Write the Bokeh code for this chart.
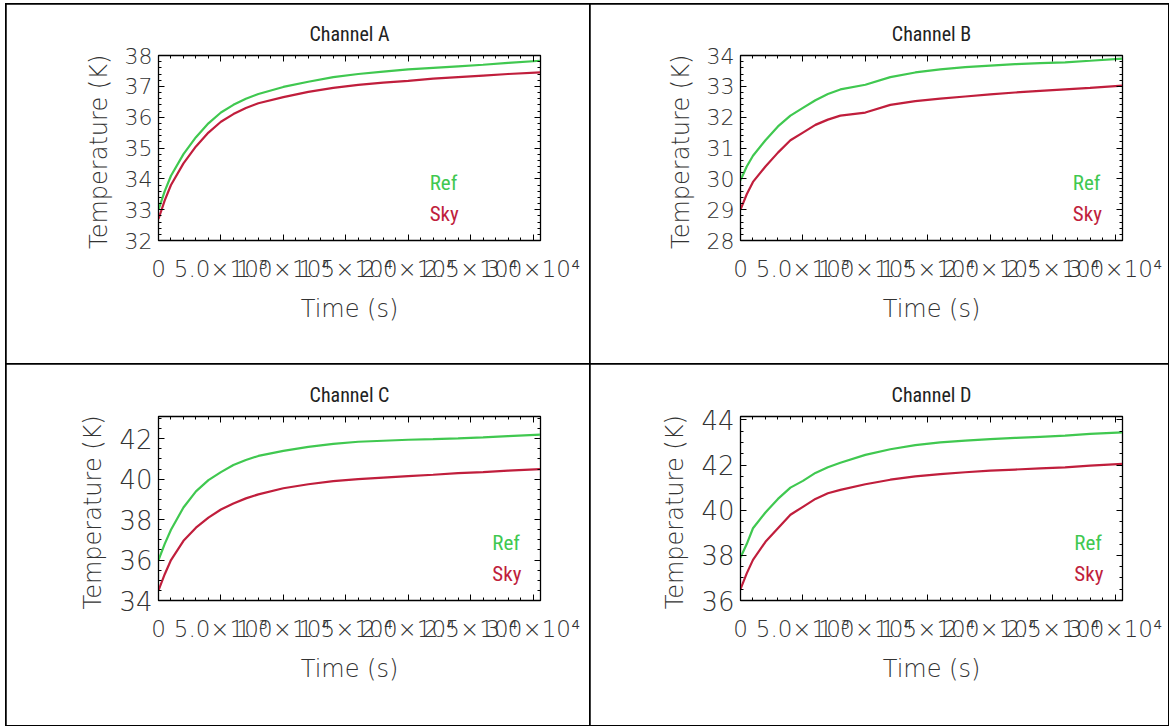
from bokeh.plotting import figure
from bokeh.layouts import row, column
from bokeh.models import LinearAxis, FixedTicker, Label, Range1d
from bokeh.embed import file_html
from bokeh.resources import INLINE

# ---------------- data ----------------
time_s = [0, 500, 1000, 2000, 3000, 4000, 5000, 6000, 7000, 8000, 10000,
          12000, 14000, 16000, 18000, 20000, 22000, 24000, 26000, 28000, 30600]

ref_a = [33.0, 33.6, 34.1, 34.8, 35.35, 35.8, 36.15, 36.4, 36.6, 36.75, 36.98,
         37.15, 37.3, 37.4, 37.48, 37.55, 37.6, 37.65, 37.7, 37.76, 37.83]
sky_a = [32.7, 33.3, 33.8, 34.5, 35.05, 35.5, 35.85, 36.1, 36.3, 36.45, 36.65,
         36.82, 36.95, 37.05, 37.12, 37.18, 37.25, 37.3, 37.35, 37.4, 37.45]

ref_b = [29.95, 30.4, 30.75, 31.25, 31.7, 32.05, 32.3, 32.55, 32.75, 32.9, 33.05,
         33.3, 33.45, 33.55, 33.62, 33.67, 33.72, 33.75, 33.78, 33.83, 33.9]
sky_b = [29.0, 29.5, 29.9, 30.4, 30.85, 31.25, 31.5, 31.75, 31.92, 32.05, 32.15,
         32.4, 32.52, 32.6, 32.67, 32.74, 32.8, 32.85, 32.9, 32.95, 33.02]

ref_c = [36.0, 36.8, 37.5, 38.6, 39.4, 39.95, 40.35, 40.7, 40.95, 41.15, 41.4,
         41.6, 41.75, 41.85, 41.9, 41.95, 41.98, 42.02, 42.07, 42.13, 42.2]
sky_c = [34.5, 35.3, 36.0, 36.95, 37.6, 38.1, 38.5, 38.8, 39.05, 39.25, 39.55,
         39.75, 39.9, 40.0, 40.08, 40.15, 40.22, 40.3, 40.35, 40.42, 40.5]

ref_d = [37.9, 38.5, 39.2, 39.9, 40.5, 41.0, 41.3, 41.65, 41.9, 42.1, 42.45,
         42.7, 42.88, 43.0, 43.08, 43.15, 43.2, 43.25, 43.3, 43.38, 43.45]
sky_d = [36.5, 37.2, 37.8, 38.6, 39.2, 39.8, 40.15, 40.5, 40.75, 40.9, 41.15,
         41.35, 41.5, 41.6, 41.68, 41.75, 41.8, 41.85, 41.9, 41.97, 42.05]

x_ticks = [0, 5000, 10000, 15000, 20000, 25000, 30000]
x_tick_labels = ["0", "5.0\u00d710\u00b3", "1.0\u00d710\u2074", "1.5\u00d710\u2074",
                 "2.0\u00d710\u2074", "2.5\u00d710\u2074", "3.0\u00d710\u2074"]
x_minor = list(range(0, 31000, 1000))

titles = ["Channel A", "Channel B", "Channel C", "Channel D"]
y_ranges = [(32, 38), (28, 34), (34, 43.1), (36, 44.15)]
y_ticks = [[32, 33, 34, 35, 36, 37, 38], [28, 29, 30, 31, 32, 33, 34],
           [34, 36, 38, 40, 42], [36, 38, 40, 42, 44]]
y_minor_step = [0.2, 0.2, 0.5, 0.5]
series_names = ["Ref", "Sky"]

# ---------------- style ----------------
GREEN = "#40c850"
RED = "#c01e3c"
NARROW = "'Liberation Sans Narrow', 'Roboto Condensed', Roboto, sans-serif"
THIN = "'DejaVu Sans Light', 'DejaVu Sans ExtraLight', 'DejaVu Sans', sans-serif"
TXT = "#333333"


def make_panel(idx, ref, sky, width, height, borders, legend_x, ytick_size):
    y0, y1 = y_ranges[idx]
    p = figure(width=width, height=height, x_range=Range1d(0, 30600),
               y_range=Range1d(y0, y1), output_backend="svg",
               toolbar_location=None, title=titles[idx],
               min_border_left=borders[0], min_border_right=borders[1],
               min_border_top=borders[2], min_border_bottom=borders[3])
    p.background_fill_color = "white"
    p.border_fill_color = "white"
    p.outline_line_color = "black"
    p.outline_line_width = 1.3
    p.xgrid.visible = False
    p.ygrid.visible = False

    p.title.align = "center"
    p.title.text_font = NARROW
    p.title.text_font_size = "20px"
    p.title.text_font_style = "normal"
    p.title.text_color = "#222222"
    p.title.standoff = 19

    ymin = []
    step = y_minor_step[idx]
    k = 0
    while y0 + k * step <= y1 + 1e-9:
        ymin.append(round(y0 + k * step, 3))
        k += 1
    xt = FixedTicker(ticks=x_ticks, minor_ticks=x_minor)
    yt = FixedTicker(ticks=y_ticks[idx], minor_ticks=ymin)

    overrides = {t: lab for t, lab in zip(x_ticks, x_tick_labels)}

    xa = p.xaxis[0]
    xa.ticker = xt
    xa.major_label_overrides = overrides
    xa.axis_label = "Time (s)"
    ya = p.yaxis[0]
    ya.ticker = yt
    ya.axis_label = "Temperature  (K)"

    top = LinearAxis(ticker=xt, major_label_text_font_size="1px",
                     major_label_text_color=None, major_label_standoff=0)
    right = LinearAxis(ticker=yt, major_label_text_font_size="1px",
                       major_label_text_color=None, major_label_standoff=0)
    p.add_layout(top, "above")
    p.add_layout(right, "right")

    for ax in (xa, ya, top, right):
        ax.major_tick_in = 6
        ax.major_tick_out = 0
        ax.minor_tick_in = 3
        ax.minor_tick_out = 0
        ax.axis_line_color = "black"
        ax.major_tick_line_color = "black"
        ax.minor_tick_line_color = "black"

    xa.major_label_text_font = THIN
    xa.major_label_text_font_size = "23px"
    xa.major_label_text_color = TXT
    xa.major_label_standoff = 15
    xa.axis_label_text_font = THIN
    xa.axis_label_text_font_size = "24px"
    xa.axis_label_text_font_style = "normal"
    xa.axis_label_text_color = TXT
    xa.axis_label_standoff = 10

    ya.major_label_text_font = THIN
    ya.major_label_text_font_size = ytick_size
    ya.major_label_text_color = TXT
    ya.major_label_standoff = 6
    ya.major_label_orientation = "horizontal"
    ya.axis_label_text_font = THIN
    ya.axis_label_text_font_size = "24px"
    ya.axis_label_text_font_style = "normal"
    ya.axis_label_text_color = TXT
    ya.axis_label_standoff = 9

    p.line(time_s, ref, line_color=GREEN, line_width=2.2)
    p.line(time_s, sky, line_color=RED, line_width=2.2)

    span = y1 - y0
    for name, col, fy in ((series_names[0], GREEN, 0.31), (series_names[1], RED, 0.145)):
        p.add_layout(Label(x=30600 * legend_x, y=y0 + fy * span, text=name,
                           text_color=col, text_font=NARROW,
                           text_font_size="21px", text_baseline="middle",
                           text_align="left"))

    p.styles = {"outline": "2px solid black", "outline-offset": "-1px"}
    return p


pa = make_panel(0, ref_a, sky_a, 584, 360, (152, 50, 51, 124), 0.71, "22px")
pb = make_panel(1, ref_b, sky_b, 578, 360, (150, 46, 51, 124), 0.87, "22px")
pc = make_panel(2, ref_c, sky_c, 584, 361, (152, 50, 52, 125), 0.874, "26px")
pd = make_panel(3, ref_d, sky_d, 578, 361, (150, 46, 52, 125), 0.874, "26px")

layout = column(row(pa, pb), row(pc, pd), margin=(4, 0, 0, 6))

open("out.html", "w").write(file_html(layout, INLINE))
